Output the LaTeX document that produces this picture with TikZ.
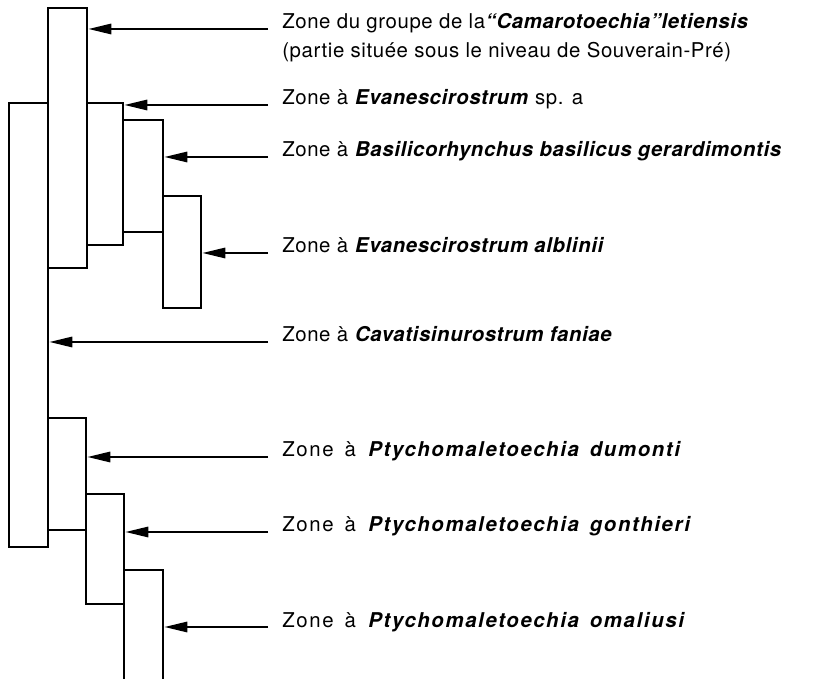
\documentclass[tikz,border=0pt]{standalone}
\usepackage{fontspec}
\setmainfont{TeX Gyre Heros}[LetterSpace=3]
\newfontfamily\widefont{TeX Gyre Heros}[LetterSpace=8, WordSpace=1.5]
\usetikzlibrary{arrows.meta,fit}
\newcommand{\taxon}[1]{\textbf{\textit{#1}}}
\tikzset{
  rangebox/.style={draw=black, line width=2.1pt, inner sep=0pt},
  zonelabel/.style={anchor=base west, inner xsep=0.35cm, inner ysep=0pt, font=\fontsize{14.5pt}{20.5pt}\selectfont},
  widelabel/.style={zonelabel, font=\fontsize{14.5pt}{20.5pt}\widefont},
  zonearrow/.style={-{Triangle[length=0.57cm, width=0.26cm]}, line width=1.3pt, draw=black}
}

\begin{document}
\begin{tikzpicture}
  \clip (0,0) rectangle (20.65,16.95);

  \node[rangebox, fit={(1.2,10.25) (2.175,16.75)}] (cam) {};
  \node[rangebox, fit={(0.225,3.275) (1.2,14.375)}] (cav) {};
  \node[rangebox, fit={(2.175,10.825) (3.075,14.375)}] (eva) {};
  \node[rangebox, fit={(3.075,11.15) (4.075,13.95)}] (bas) {};
  \node[rangebox, fit={(4.075,9.25) (5.025,12.05)}] (alb) {};
  \node[rangebox, fit={(1.2,3.7) (2.15,6.5)}] (dum) {};
  \node[rangebox, fit={(2.15,1.85) (3.1,4.6)}] (gon) {};
  \node[rangebox, fit={(3.1,-1) (4.075,2.7)}] (oma) {};

  \node[zonelabel] (lcam) at (6.7,16.225) {Zone du groupe de la\taxon{“Camarotoechia”letiensis}};
  \node[zonelabel] (lcamb) at ([yshift=-0.725cm]lcam.base west) {(partie située sous le niveau de Souverain-Pré)};
  \node[zonelabel] (leva) at (6.7,14.325) {Zone à \taxon{Evanescirostrum} sp. a};
  \node[zonelabel] (lbas) at (6.7,13.025) {Zone à \taxon{Basilicorhynchus basilicus gerardimontis}};
  \node[zonelabel] (lalb) at (6.7,10.625) {Zone à \taxon{Evanescirostrum alblinii}};
  \node[zonelabel] (lcav) at (6.7,8.4) {Zone à \taxon{Cavatisinurostrum faniae}};
  \node[widelabel] (ldum) at (6.7,5.525) {Zone à \taxon{Ptychomaletoechia dumonti}};
  \node[widelabel] (lgon) at (6.7,3.65) {Zone à \taxon{Ptychomaletoechia gonthieri}};
  \node[widelabel] (loma) at (6.7,1.275) {Zone à \taxon{Ptychomaletoechia omaliusi}};

  \foreach \l/\b in {lcam/cam, leva/eva, lbas/bas, lalb/alb, lcav/cav, ldum/dum, lgon/gon, loma/oma}
    \draw[zonearrow] (\l.base west) -- (\l.base west -| \b.east);
\end{tikzpicture}
\end{document}
